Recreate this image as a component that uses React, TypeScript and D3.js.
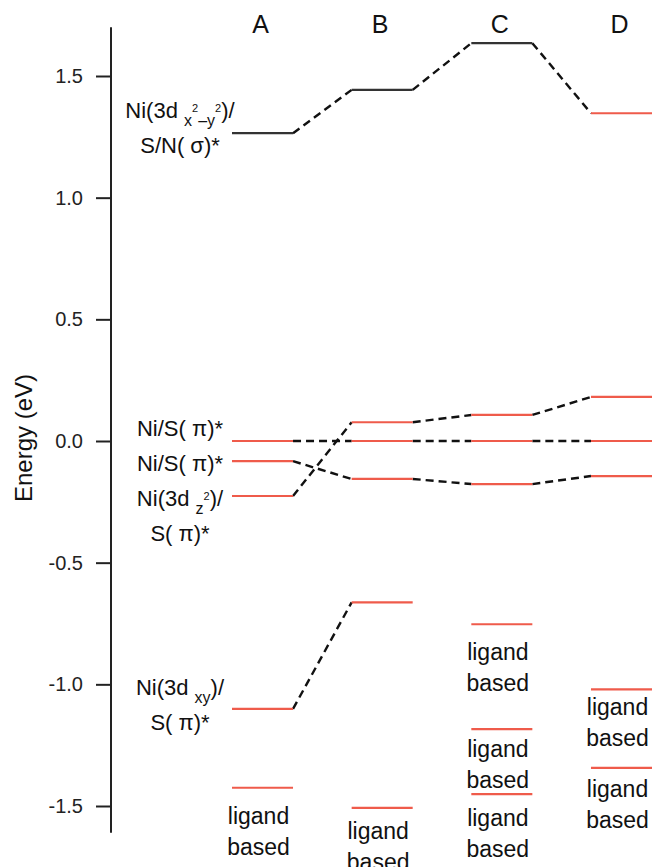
import React, { useEffect, useRef } from 'react'
import * as d3 from 'd3'

const [WIDTH, HEIGHT] = [655, 867]
const AXIS_X = 111

const columns = ['A', 'B', 'C', 'D']
const yTicks = [-1.5, -1.0, -0.5, 0.0, 0.5, 1.0, 1.5]

// correlated levels (eV), one value per column, joined by dashed lines
const sigmaStar = [1.265, 1.443, 1.635, 1.347]
const piOuter = [0, 0, 0, 0]
const piInner = [-0.083, -0.156, -0.177, -0.144]
const dz2 = [-0.226, 0.077, 0.107, 0.181]
const dxy = [-1.101, -0.663]

// uncorrelated ligand based levels, and the energy where each "ligand" caption sits
const ligandCols = ['A', 'B', 'C', 'C', 'C', 'D', 'D']
const ligandVals = [-1.425, -1.508, -0.753, -1.184, -1.451, -1.021, -1.343]
const ligandLabelAt = [-1.572, -1.634, -0.898, -1.297, -1.584, -1.124, -1.461]

// left-hand orbital labels: energy of first line, then lines of [text, kind]
const labelAt = [1.36, 0.053, -0.09, -0.234, -1.01]
const labelLines = [
  [[['Ni(3d ', 'n'], ['x', 'sub'], ['2', 'sup'], ['\u2013y', 'sub'], ['2', 'sup'], [')/', 'n']], [['S/N( \u03c3)*', 'n']]],
  [[['Ni/S( \u03c0)*', 'n']]],
  [[['Ni/S( \u03c0)*', 'n']]],
  [[['Ni(3d ', 'n'], ['z', 'sub'], ['2', 'sup'], [')/', 'n']], [['S( \u03c0)*', 'n']]],
  [[['Ni(3d ', 'n'], ['xy', 'sub'], [')/', 'n']], [['S( \u03c0)*', 'n']]],
]

const series = [
  { name: 'sigma', values: sigmaStar },
  { name: 'pi1', values: piOuter },
  { name: 'pi2', values: piInner },
  { name: 'z2', values: dz2 },
  { name: 'xy', values: dxy },
]

const RED = '#ef5b4b'
const DARK = '#333'
const INK = '#111'
const FONT = 'Liberation Sans, Arial, sans-serif'

const shift = { n: 0, sub: 8, sup: -6 }
const size = { n: 22, sub: 16, sup: 11 }

function RichLine({ parts, x, y }) {
  let cur = 0
  return (
    <text x={x} y={y} textAnchor="middle" fontFamily={FONT} fill={INK} style={{ whiteSpace: 'pre' }}>
      {parts.map(([t, kind], i) => {
        const dy = shift[kind] - cur
        cur = shift[kind]
        return <tspan key={i} dy={dy} fontSize={size[kind]}>{t}</tspan>
      })}
    </text>
  )
}

export default function App() {
  const axisRef = useRef(null)

  const yScale = d3.scaleLinear().domain([-1.5, 1.5]).range([806, 76])
  const xBand = d3.scaleBand().domain(columns).range([232, 652]).paddingInner(0.49).paddingOuter(0)
  const bw = xBand.bandwidth()
  const mid = c => xBand(c) + bw / 2

  useEffect(() => {
    const g = d3.select(axisRef.current)
    g.selectAll('*').remove()
    const axis = d3.axisLeft(yScale)
      .tickValues(yTicks)
      .tickSize(15)
      .tickPadding(13)
      .tickFormat(d => d.toFixed(1))
    g.call(axis)
    g.select('.domain').remove()
    g.selectAll('.tick line').attr('stroke', '#222').attr('stroke-width', 2)
    g.selectAll('.tick text')
      .attr('font-size', 20)
      .attr('font-family', FONT)
      .attr('fill', '#222')
  }, [])

  const levelColor = (name, i) => (name === 'sigma' && columns[i] !== 'D' ? DARK : RED)

  const levels = []
  const links = []
  series.forEach(s => {
    s.values.forEach((v, i) => {
      const c = columns[i]
      levels.push(
        <line key={`${s.name}-${i}`} x1={xBand(c)} x2={xBand(c) + bw} y1={yScale(v)} y2={yScale(v)}
          stroke={levelColor(s.name, i)} strokeWidth={2.2} />
      )
      if (i > 0) {
        const p = columns[i - 1]
        links.push(
          <line key={`${s.name}-l${i}`} x1={xBand(p) + bw} y1={yScale(s.values[i - 1])} x2={xBand(c)} y2={yScale(v)}
            stroke={INK} strokeWidth={2.4} strokeDasharray="8,5" />
        )
      }
    })
  })

  const ligands = ligandVals.map((v, i) => {
    const c = ligandCols[i]
    const y = yScale(v)
    const ty = yScale(ligandLabelAt[i])
    return (
      <g key={`lig-${i}`}>
        <line x1={xBand(c)} x2={xBand(c) + bw} y1={y} y2={y} stroke={RED} strokeWidth={2.2} />
        <text x={mid(c) - 4} y={ty} textAnchor="middle" fontSize={23} fontFamily={FONT} fill={INK}>ligand</text>
        <text x={mid(c) - 4} y={ty + 31} textAnchor="middle" fontSize={23} fontFamily={FONT} fill={INK}>based</text>
      </g>
    )
  })

  const labels = labelLines.map((lines, i) => (
    <g key={`lab-${i}`}>
      {lines.map((parts, j) => (
        <RichLine key={j} parts={parts} x={180} y={yScale(labelAt[i]) + 8 + j * 35} />
      ))}
    </g>
  ))

  return (
    <svg width={WIDTH} height={HEIGHT} style={{ position: 'absolute', left: 0, top: 0, background: '#fff' }}>
      <line x1={AXIS_X} x2={AXIS_X} y1={yScale(1.7)} y2={yScale(-1.61)} stroke="#222" strokeWidth={2} />
      <g ref={axisRef} transform={`translate(${AXIS_X},0)`} />
      <text transform={`translate(32,438) rotate(-90)`} textAnchor="middle" fontSize={24} fontFamily={FONT} fill={INK}>
        Energy (eV)
      </text>
      {columns.map(c => (
        <text key={c} x={mid(c) - 2} y={33} textAnchor="middle" fontSize={25} fontFamily={FONT} fill={INK}>{c}</text>
      ))}
      {links}
      {levels}
      {ligands}
      {labels}
    </svg>
  )
}
